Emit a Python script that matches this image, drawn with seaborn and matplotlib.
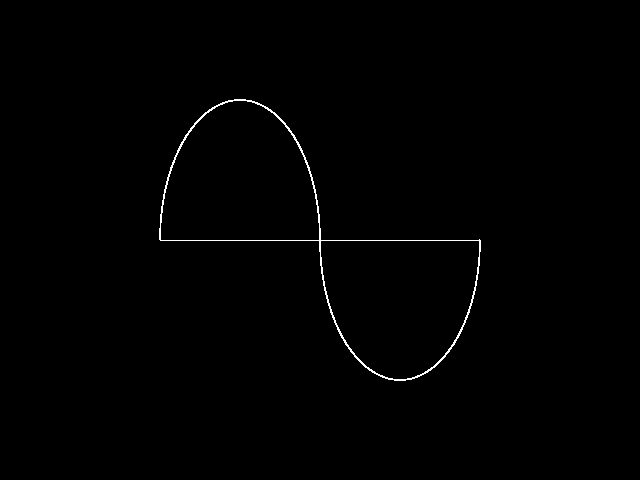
import matplotlib
matplotlib.use("Agg")
import matplotlib.pyplot as plt
from matplotlib.patches import Arc
import seaborn as sns
import pandas as pd

# Shape data (pixel units)
baseline_x = [160, 480]
baseline_y = [240, 240]
arc_centers_x = [240, 400]
arc_centers_y = [240, 240]
arc_widths = [160, 160]
arc_heights = [280, 280]
arc_theta1 = [0, 180]    # upper half, lower half (y axis inverted below)
arc_theta2 = [180, 360]

LW = 0.72  # one device pixel at 100 dpi
ARC_LW = 0.5

sns.set_style("dark", {"axes.facecolor": "black", "figure.facecolor": "black"})

fig = plt.figure(figsize=(6.4, 4.8), dpi=100)
ax = fig.add_axes([0, 0, 1, 1])
ax.set_facecolor("black")

df = pd.DataFrame({"x": baseline_x, "y": baseline_y})
sns.lineplot(data=df, x="x", y="y", ax=ax, color="white", linewidth=LW,
             antialiased=False, legend=False)

for cx, cy, w, h, t1, t2 in zip(arc_centers_x, arc_centers_y, arc_widths,
                                 arc_heights, arc_theta1, arc_theta2):
    # with the y axis inverted, angles 180..360 appear above the baseline
    ax.add_patch(Arc((cx, cy), w, h, theta1=t1 + 180, theta2=t2 + 180,
                     color="white", linewidth=ARC_LW, antialiased=False))

ax.set_xlim(0, 640)
ax.set_ylim(480, 0)
ax.set_axis_off()
fig.savefig("out.png", dpi=100, facecolor="black")
